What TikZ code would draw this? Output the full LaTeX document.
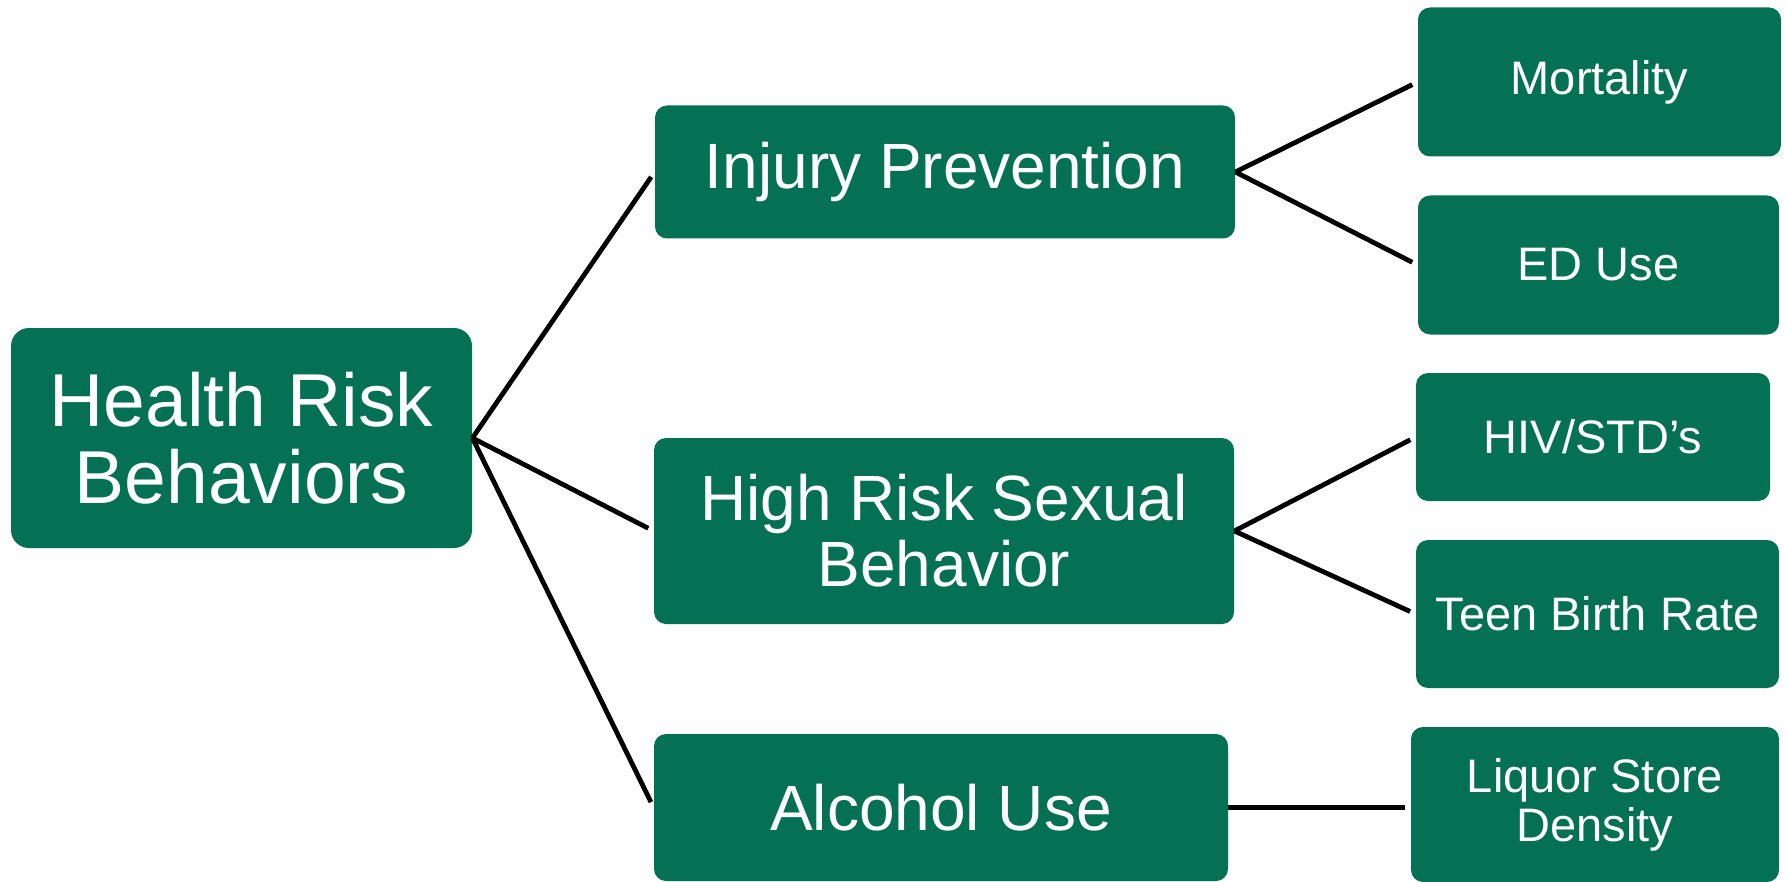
\documentclass[tikz,border=0pt]{standalone}
\usepackage{fontspec}
\setmainfont{Liberation Sans}
\definecolor{boxgreen}{RGB}{4,112,84}
\begin{document}
\begin{tikzpicture}[x=0.5pt,y=-0.5pt,
  box/.style={fill=boxgreen, text=white, rounded corners=6pt, align=center, inner sep=0pt, draw=none},
  bigtext/.style={font=\fontsize{37.5}{38.5}\selectfont},
  midtext/.style={font=\fontsize{32}{33}\selectfont},
  smalltext/.style={font=\fontsize{23.5}{24.5}\selectfont},
  link/.style={draw=black, line width=2.4pt, shorten >=3pt}]
\useasboundingbox (0,0) rectangle (1787,882);
\node[box, bigtext, rounded corners=9pt, minimum width=230.5pt, minimum height=110pt] (root) at (241.5,438) {Health Risk\\Behaviors};
\node[box, midtext, minimum width=290pt, minimum height=66.5pt] (inj) at (945,172) {Injury Prevention};
\node[box, midtext, minimum width=290pt, minimum height=93pt] (sex) at (944,531) {High Risk Sexual\\Behavior};
\node[box, midtext, minimum width=287pt, minimum height=73.5pt] (alc) at (941,807.5) {Alcohol Use};
\node[box, smalltext, minimum width=181.5pt, minimum height=74.5pt] (mort) at (1599.5,82) {Mortality};
\node[box, smalltext, minimum width=180.5pt, minimum height=69.5pt] (ed) at (1598.5,265) {ED Use};
\node[box, smalltext, minimum width=177pt, minimum height=64pt] (hiv) at (1593,437) {HIV/STD’s};
\node[box, smalltext, minimum width=181.5pt, minimum height=74pt] (teen) at (1597.5,614) {Teen Birth Rate};
\node[box, smalltext, minimum width=184pt, minimum height=77.5pt] (liq) at (1595,804.5) {Liquor Store\\Density};
\draw[link] (root.east) -- (inj.west);
\draw[link] (root.east) -- (sex.west);
\draw[link] (root.east) -- (alc.west);
\draw[link] (inj.east) -- (mort.west);
\draw[link] (inj.east) -- (ed.west);
\draw[link] (sex.east) -- (hiv.west);
\draw[link] (sex.east) -- (teen.west);
\draw[link] (alc.east) -- (alc.east -| liq.west);
\end{tikzpicture}
\end{document}
